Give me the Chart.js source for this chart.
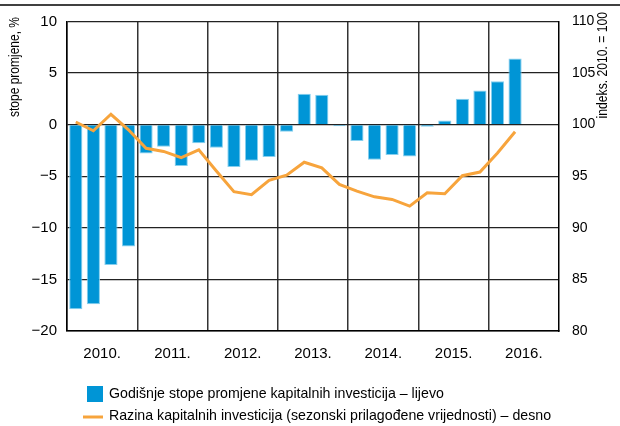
<!DOCTYPE html>
<html>
<head>
<meta charset="utf-8">
<script src="https://cdn.jsdelivr.net/npm/chart.js@4"></script>
<style>
  body { margin: 0; background: #fff; }
</style>
</head>
<body>
<canvas id="myChart" width="620" height="426"></canvas>
<script>
// kvartali 2010.–2016. (zadnja dva prazna)
var kvartali = [
    '2010Q1', '2010Q2', '2010Q3', '2010Q4',
    '2011Q1', '2011Q2', '2011Q3', '2011Q4',
    '2012Q1', '2012Q2', '2012Q3', '2012Q4',
    '2013Q1', '2013Q2', '2013Q3', '2013Q4',
    '2014Q1', '2014Q2', '2014Q3', '2014Q4',
    '2015Q1', '2015Q2', '2015Q3', '2015Q4',
    '2016Q1', '2016Q2', '2016Q3', '2016Q4'
];
var godine = ['2010.', '2011.', '2012.', '2013.', '2014.', '2015.', '2016.'];

// godišnje stope promjene, % (lijevo)
var stope = [
    -17.9, -17.4, -13.6, -11.8,
    -2.8, -2.15, -4.0, -1.8,
    -2.25, -4.1, -3.5, -3.15,
    -0.7, 3.0, 2.9, -0.15,
    -1.6, -3.4, -2.95, -3.1,
    -0.2, 0.4, 2.5, 3.3,
    4.2, 6.4
];

// razina, indeks 2010. = 100 (desno)
var razina = [
    100.25, 99.4, 101.0, 99.5,
    97.7, 97.4, 96.8, 97.55,
    95.5, 93.5, 93.2, 94.6,
    95.1, 96.35, 95.8, 94.2,
    93.55, 93.0, 92.75, 92.1,
    93.4, 93.3, 95.05, 95.4,
    97.25, 99.3
];

var plava = '#0095d6';
var narancasta = '#f7a43c';
var FONT = '"Liberation Sans", Arial, sans-serif';

function minus(v) {
    return v < 0 ? '\u2212' + Math.abs(v) : '' + v;
}

// okomiti tekst, suzen po duljini
function okomito(ctx, tekst, x, y, suzenje) {
    ctx.save();
    ctx.translate(x, y);
    ctx.rotate(-Math.PI / 2);
    ctx.scale(suzenje, 1);
    ctx.fillText(tekst, 0, 0);
    ctx.restore();
}

// naslovi osi, linija na vrhu i legenda
var dodaci = {
    id: 'dodaci',
    afterDraw: function (chart) {
        var ctx = chart.ctx;
        ctx.save();
        ctx.strokeStyle = '#000';
        ctx.lineWidth = 1.3;
        ctx.beginPath();
        ctx.moveTo(0, 5);
        ctx.lineTo(620, 5);
        ctx.stroke();

        ctx.fillStyle = '#000';
        ctx.font = '15px ' + FONT;
        ctx.textAlign = 'right';
        ctx.textBaseline = 'middle';
        okomito(ctx, 'stope promjene, %', 15, 17, 0.8);
        okomito(ctx, 'indeks. 2010. = 100', 603, 12, 0.81);

        // legenda
        var ds = chart.data.datasets;
        ctx.fillStyle = plava;
        ctx.fillRect(87, 386, 16, 16);
        ctx.strokeStyle = narancasta;
        ctx.lineWidth = 3;
        ctx.beginPath();
        ctx.moveTo(83, 417);
        ctx.lineTo(103, 417);
        ctx.stroke();

        ctx.fillStyle = '#000';
        ctx.font = '15px ' + FONT;
        ctx.textAlign = 'left';
        ctx.save();
        ctx.translate(109, 0);
        ctx.scale(0.945, 1);
        ctx.fillText(ds[1].label, 0, 394);
        ctx.fillText(ds[0].label, 0, 416);
        ctx.restore();
        ctx.restore();
    }
};

var ctx = document.getElementById('myChart');
var myChart = new Chart(ctx, {
    data: {
        labels: kvartali,
        datasets: [{
            type: 'line',
            label: 'Razina kapitalnih investicija (sezonski prilagođene vrijednosti) – desno',
            data: razina,
            yAxisID: 'y2',
            xAxisID: 'x',
            borderColor: narancasta,
            borderWidth: 3,
            pointRadius: 0,
            tension: 0,
            order: 0
        }, {
            type: 'bar',
            label: 'Godišnje stope promjene kapitalnih investicija – lijevo',
            data: stope,
            yAxisID: 'y',
            xAxisID: 'x',
            backgroundColor: plava,
            borderColor: '#86cfee',
            borderWidth: 1,
            categoryPercentage: 1,
            barPercentage: 0.75,
            order: 1
        }]
    },
    options: {
        responsive: false,
        animation: false,
        devicePixelRatio: 1,
        layout: { padding: { top: 16, bottom: 65, left: 0, right: 0 } },
        plugins: {
            legend: { display: false },
            tooltip: { enabled: false }
        },
        scales: {
            x: {
                type: 'category',
                position: 'bottom',
                weight: 0,
                offset: true,
                grid: {
                    offset: true,
                    drawTicks: false,
                    lineWidth: 1.5,
                    color: function (c) { return c.index % 4 === 0 ? '#333' : 'rgba(0,0,0,0)'; }
                },
                border: { display: true, color: '#000', width: 1.5 },
                ticks: { display: false, autoSkip: false },
                afterFit: function (s) { s.height = 0; }
            },
            x2: {
                type: 'category',
                labels: godine,
                position: 'bottom',
                weight: 1,
                offset: true,
                grid: { display: false, drawTicks: false },
                border: { display: false },
                ticks: { color: '#000', font: { size: 15, family: FONT }, padding: 14 },
                afterFit: function (s) { s.height = 30; }
            },
            y: {
                position: 'left',
                min: -20,
                max: 10,
                grid: { color: '#222', lineWidth: 1.3, drawTicks: false },
                border: { display: true, color: '#000', width: 1.5 },
                ticks: {
                    stepSize: 5,
                    color: '#000',
                    padding: 10,
                    font: { size: 15, family: FONT },
                    callback: function (v) { return minus(v); }
                },
                afterFit: function (s) { s.width = 67; }
            },
            y2: {
                position: 'right',
                min: 80,
                max: 110,
                grid: { display: false, drawTicks: false },
                border: { display: true, color: '#000', width: 1.5 },
                ticks: {
                    stepSize: 5,
                    color: '#000',
                    padding: 13,
                    font: { size: 14, family: FONT }
                },
                afterFit: function (s) { s.width = 61; }
            }
        }
    },
    plugins: [dodaci]
});
</script>
</body>
</html>
